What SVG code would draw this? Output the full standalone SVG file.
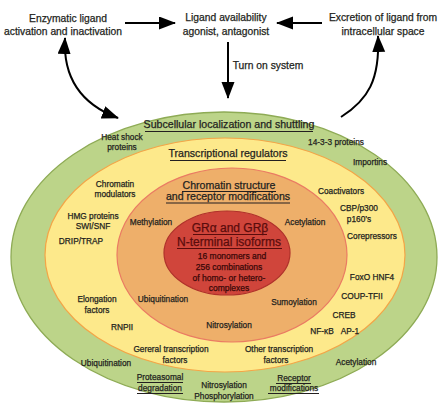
<svg xmlns="http://www.w3.org/2000/svg" width="442" height="410" viewBox="0 0 442 410">
<style>
text{font-family:"Liberation Sans",Arial,sans-serif;fill:#231f20;text-anchor:middle;stroke:#231f20;stroke-width:0.25}
.t{font-size:10.3px}
.h{font-size:10.6px}
.s{font-size:8.3px}
.r{font-size:12px;fill:#5a0c0c;stroke:#5a0c0c}
.rs{font-size:8.5px;fill:#3a0808;stroke:#3a0808}
.ul{stroke:#231f20;stroke-width:1.1}
.ulr{stroke:#5a0c0c;stroke-width:1.1}
.con{fill:none;stroke:#000;stroke-width:2}
</style>
<defs>
<marker id="ah" markerUnits="userSpaceOnUse" markerWidth="18" markerHeight="14" refX="16" refY="6.5" orient="auto-start-reverse">
<path d="M0,0 L17,6.5 L0,13 z" fill="#000"/>
</marker>
</defs>
<rect width="442" height="410" fill="#fff"/>

<g id="green-ring">
<ellipse cx="224" cy="257" rx="213" ry="145" fill="#bcd489" stroke="#8eab55" stroke-width="1.3"/>
</g>
<g id="yellow-ring">
<ellipse cx="225" cy="255" rx="180" ry="117" fill="#fde98b" stroke="#f4a547" stroke-width="1.2"/>
</g>
<g id="orange-ring">
<ellipse cx="232" cy="255" rx="115" ry="87" fill="#eeaf6a" stroke="#ea7b63" stroke-width="1.2"/>
</g>
<g id="red-core">
<ellipse cx="227" cy="253" rx="63" ry="42" fill="#d0453b" stroke="#b0312b" stroke-width="1.2"/>
</g>

<g id="connectors">
<line class="con" x1="125" y1="23" x2="175" y2="23" marker-end="url(#ah)"/>
<line class="con" x1="322" y1="23" x2="277" y2="23" marker-end="url(#ah)"/>
<line class="con" x1="228" y1="42" x2="228" y2="98" marker-end="url(#ah)"/>
<path class="con" d="M65,38 C63,75 78,103 118,118" marker-start="url(#ah)" marker-end="url(#ah)"/>
<path class="con" d="M341,117 C368,100 380,80 378,36" marker-end="url(#ah)"/>
<text class="t" x="268" y="69">Turn on system</text>
</g>

<g id="enzymatic">
<text class="t" x="68" y="21.5">Enzymatic ligand</text>
<text class="t" x="63" y="35">activation and inactivation</text>
</g>
<g id="ligand">
<text class="t" x="226" y="21">Ligand availability</text>
<text class="t" x="226" y="34.5">agonist, antagonist</text>
</g>
<g id="excretion">
<text class="t" x="383" y="21">Excretion of ligand from</text>
<text class="t" x="383" y="35">intracellular space</text>
</g>

<g id="green-labels">
<text class="h" x="229" y="127.5">Subcellular localization and shuttling</text>
<line class="ul" x1="145" y1="131.5" x2="313" y2="131.5"/>
<text class="s" x="122" y="140">Heat shock</text>
<text class="s" x="122" y="150">proteins</text>
<text class="s" x="336" y="145">14-3-3 proteins</text>
<text class="s" x="370" y="165">Importins</text>
<text class="s" x="106" y="366">Ubiquitination</text>
<text class="s" x="160" y="380">Proteasomal</text>
<line class="ul" x1="137" y1="382.5" x2="183" y2="382.5"/>
<text class="s" x="160" y="390.5">degradation</text>
<line class="ul" x1="137" y1="393.5" x2="183" y2="393.5"/>
<text class="s" x="224" y="388">Nitrosylation</text>
<text class="s" x="224" y="399">Phosphorylation</text>
<text class="s" x="294" y="381">Receptor</text>
<line class="ul" x1="276" y1="383.5" x2="311" y2="383.5"/>
<text class="s" x="294" y="391">modifications</text>
<line class="ul" x1="268" y1="393.5" x2="319" y2="393.5"/>
<text class="s" x="356" y="365">Acetylation</text>
</g>

<g id="yellow-labels">
<text class="h" x="228" y="157">Transcriptional regulators</text>
<line class="ul" x1="170" y1="160.5" x2="286" y2="160.5"/>
<text class="s" x="115" y="186.5">Chromatin</text>
<text class="s" x="115" y="197">modulators</text>
<text class="s" x="93" y="218.5">HMG proteins</text>
<text class="s" x="93" y="228.5">SWI/SNF</text>
<text class="s" x="81" y="244">DRIP/TRAP</text>
<text class="s" x="97" y="302">Elongation</text>
<text class="s" x="97" y="313">factors</text>
<text class="s" x="122" y="330">RNPII</text>
<text class="s" x="171" y="352">Gereral transcription</text>
<text class="s" x="175" y="363">factors</text>
<text class="s" x="279" y="352">Other transcription</text>
<text class="s" x="276" y="363">factors</text>
<text class="s" x="322" y="334">NF-κB</text>
<text class="s" x="350" y="334">AP-1</text>
<text class="s" x="344" y="317.5">CREB</text>
<text class="s" x="362" y="299">COUP-TFII</text>
<text class="s" x="372" y="280">FoxO HNF4</text>
<text class="s" x="341" y="193.5">Coactivators</text>
<text class="s" x="359" y="210.5">CBP/p300</text>
<text class="s" x="359" y="221.5">p160’s</text>
<text class="s" x="372" y="239">Corepressors</text>
</g>

<g id="orange-labels">
<text class="h" x="229" y="189">Chromatin structure</text>
<line class="ul" x1="182" y1="191.5" x2="276" y2="191.5"/>
<text class="h" x="228" y="200">and receptor modifications</text>
<line class="ul" x1="166" y1="203" x2="290" y2="203"/>
<text class="s" x="151" y="225">Methylation</text>
<text class="s" x="305" y="225">Acetylation</text>
<text class="s" x="163" y="302">Ubiquitination</text>
<text class="s" x="229" y="328">Nitrosylation</text>
<text class="s" x="294" y="305">Sumoylation</text>
</g>

<g id="red-labels">
<text class="r" x="230" y="232">GRα and GRβ</text>
<line class="ulr" x1="193" y1="234.5" x2="267" y2="234.5"/>
<text class="r" x="229" y="245.5">N-terminal isoforms</text>
<line class="ulr" x1="177" y1="248.5" x2="282" y2="248.5"/>
<text class="rs" x="232" y="259">16 monomers and</text>
<text class="rs" x="229" y="270">256 combinations</text>
<text class="rs" x="229" y="280.5">of homo- or hetero-</text>
<text class="rs" x="229" y="290.5">complexes</text>
</g>
</svg>
